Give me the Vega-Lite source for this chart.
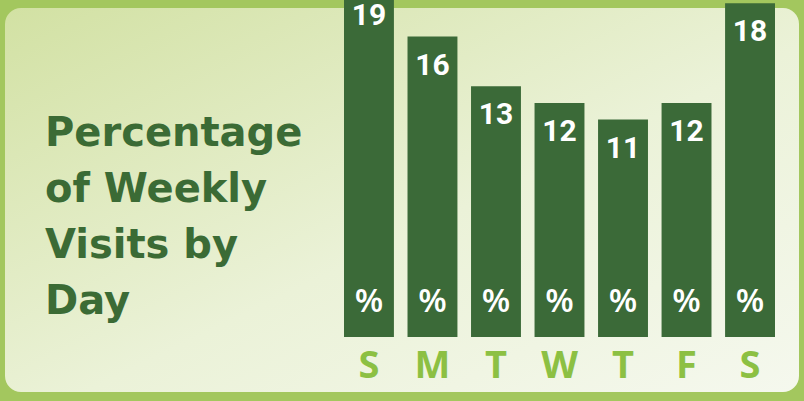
{
  "$schema": "https://vega.github.io/schema/vega-lite/v6.json",
  "width": 794,
  "height": 384,
  "autosize": {"type": "none"},
  "padding": {"left": 5, "top": 8, "right": 5, "bottom": 9},
  "background": "#a3c75e",
  "config": {
    "view": {
      "stroke": null,
      "cornerRadius": 16,
      "fill": {
        "gradient": "linear",
        "x1": 0, "y1": 0, "x2": 1, "y2": 1,
        "stops": [
          {"offset": 0, "color": "#d2e1a3"},
          {"offset": 0.55, "color": "#ebf2d8"},
          {"offset": 1, "color": "#f5f8ee"}
        ]
      }
    }
  },
  "title": {
    "text": ["Percentage", "of Weekly", "Visits by", "Day"],
    "anchor": "start",
    "frame": "group",
    "orient": "top",
    "offset": 0,
    "dx": 40,
    "dy": 367,
    "baseline": "alphabetic",
    "font": "DejaVu Sans",
    "fontSize": 40,
    "fontWeight": "bold",
    "color": "#3b6b35",
    "lineHeight": 56
  },
  "data": {
    "values": [
      {"day": "Sunday", "pct": 19},
      {"day": "Monday", "pct": 16},
      {"day": "Tuesday", "pct": 13},
      {"day": "Wednesday", "pct": 12},
      {"day": "Thursday", "pct": 11},
      {"day": "Friday", "pct": 12},
      {"day": "Saturday", "pct": 18}
    ]
  },
  "encoding": {
    "x": {
      "field": "day",
      "type": "nominal",
      "sort": null,
      "scale": {"range": [339, 770], "paddingInner": 0.214, "paddingOuter": 0},
      "axis": {
        "title": null,
        "domain": false,
        "ticks": false,
        "labelAngle": 0,
        "labelExpr": "slice(datum.label, 0, 1)",
        "labelFont": "Open Sans",
        "labelFontSize": 38,
        "labelFontWeight": "bold",
        "labelColor": "#8cc043",
        "labelBaseline": "alphabetic",
        "labelPadding": 0,
        "offset": -15
      }
    }
  },
  "layer": [
    {
      "mark": {"type": "bar", "color": "#3b6a38"},
      "encoding": {
        "y": {
          "field": "pct",
          "type": "quantitative",
          "scale": {"domain": [-5.41, 17.72], "nice": false, "zero": false},
          "axis": null
        },
        "y2": {"datum": -2.1}
      }
    },
    {
      "mark": {"type": "text", "color": "white", "font": "Roboto", "fontSize": 30, "fontWeight": "bold", "baseline": "alphabetic", "dy": 38},
      "encoding": {
        "y": {"field": "pct", "type": "quantitative"},
        "text": {"field": "pct", "type": "quantitative"}
      }
    },
    {
      "mark": {"type": "text", "color": "white", "font": "Open Sans", "fontSize": 33, "fontWeight": 600, "baseline": "alphabetic", "dy": -25},
      "encoding": {
        "y": {"datum": -2.1},
        "text": {"value": "%"}
      }
    }
  ]
}
